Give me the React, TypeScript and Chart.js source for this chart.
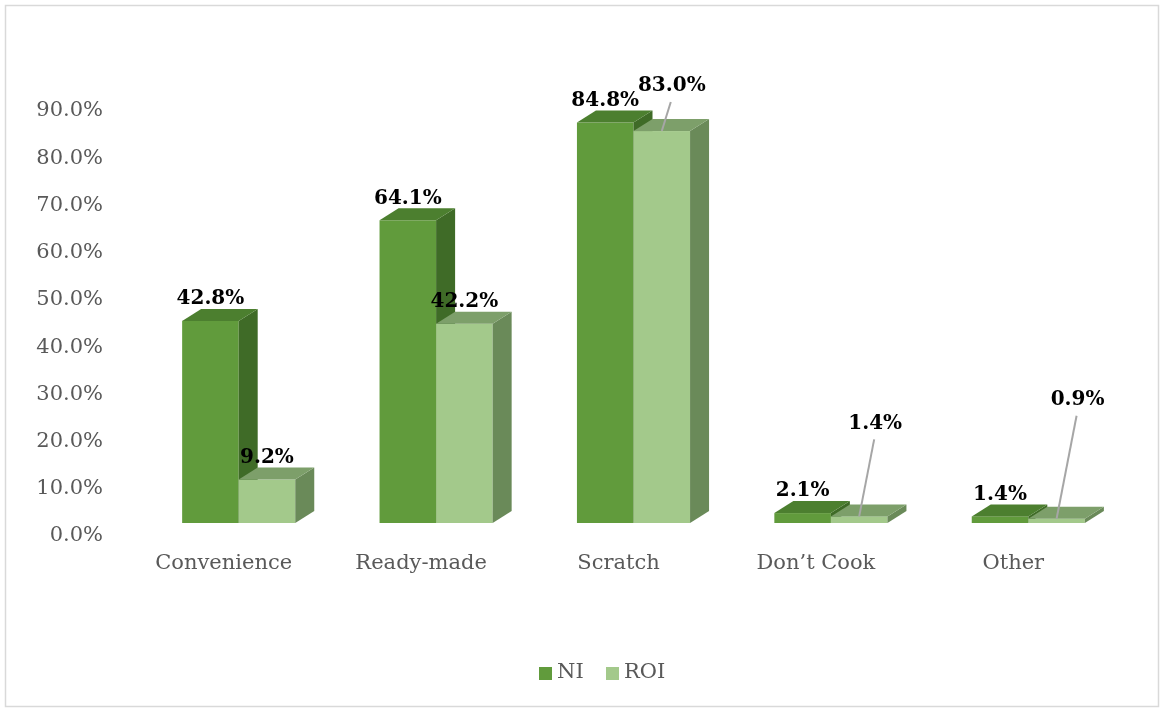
import React, { useEffect, useRef } from 'react';
import { Chart, registerables } from 'chart.js';

Chart.register(...registerables);

const categories = ['Convenience', 'Ready-made', 'Scratch', 'Don\u2019t Cook', 'Other'];
const seriesNames = ['NI', 'ROI'];
const niValues = [42.8, 64.1, 84.8, 2.1, 1.4];
const roiValues = [9.2, 42.2, 83.0, 1.4, 0.9];
const yMax = 90;
const yStep = 10;

const FACES = [
  { front: '#619b3c', top: '#4c7f2f', side: '#3f6b27' },
  { front: '#a3c98b', top: '#7d9f6a', side: '#6a8a59' },
];
const DX = 19;
const DY = 12;
// label displacement for labels that use leader lines, keyed "datasetIndex-categoryIndex" => [dx, dy]
const LABEL_SHIFT: Record<string, [number, number]> = {
  '1-2': [10, -23],
  '1-3': [16, -71],
  '1-4': [21, -97],
};

const AXIS_FONT = '21px "DejaVu Serif"';
const LABEL_FONT = 'bold 20px "DejaVu Serif"';
const GRAY = '#595959';

const bars3d = {
  id: 'bars3d',
  beforeDatasetsDraw(chart: any) {
    const ctx = chart.ctx;
    ctx.save();
    chart.data.datasets.forEach((_ds: any, di: number) => {
      const meta = chart.getDatasetMeta(di);
      const f = FACES[di];
      meta.data.forEach((bar: any) => {
        const { x, y, base, width } = bar.getProps(['x', 'y', 'base', 'width'], true);
        const l = x - width / 2;
        const r = x + width / 2;
        ctx.fillStyle = f.front;
        ctx.fillRect(l, y, width, base - y);
        ctx.fillStyle = f.side;
        ctx.beginPath();
        ctx.moveTo(r, y);
        ctx.lineTo(r + DX, y - DY);
        ctx.lineTo(r + DX, base - DY);
        ctx.lineTo(r, base);
        ctx.closePath();
        ctx.fill();
        ctx.fillStyle = f.top;
        ctx.beginPath();
        ctx.moveTo(l, y);
        ctx.lineTo(r, y);
        ctx.lineTo(r + DX, y - DY);
        ctx.lineTo(l + DX, y - DY);
        ctx.closePath();
        ctx.fill();
      });
    });
    ctx.restore();
    return false;
  },
  afterDraw(chart: any) {
    const ctx = chart.ctx;
    ctx.save();
    ctx.font = LABEL_FONT;
    ctx.textAlign = 'center';
    ctx.textBaseline = 'middle';
    chart.data.datasets.forEach((ds: any, di: number) => {
      const meta = chart.getDatasetMeta(di);
      meta.data.forEach((bar: any, i: number) => {
        const { x, y } = bar.getProps(['x', 'y'], true);
        const shift = LABEL_SHIFT[di + '-' + i] || [0, 0];
        const lx = x + shift[0];
        const ly = y - 22 + shift[1];
        if (shift[1] !== 0) {
          ctx.strokeStyle = '#a6a6a6';
          ctx.lineWidth = 2;
          ctx.beginPath();
          ctx.moveTo(lx - 1, ly + 16);
          ctx.lineTo(x, y);
          ctx.stroke();
        }
        ctx.fillStyle = '#000';
        ctx.fillText(Number(ds.data[i]).toFixed(1) + '%', lx, ly);
      });
    });
    ctx.font = AXIS_FONT;
    ctx.textAlign = 'left';
    ctx.textBaseline = 'middle';
    const legendX = [539, 606];
    chart.data.datasets.forEach((ds: any, di: number) => {
      ctx.fillStyle = FACES[di].front;
      ctx.fillRect(legendX[di], 667, 13, 13);
      ctx.fillStyle = GRAY;
      ctx.fillText(ds.label, legendX[di] + 18, 673);
    });
    ctx.restore();
  },
  beforeDraw(chart: any) {
    const ctx = chart.ctx;
    ctx.save();
    ctx.fillStyle = '#fff';
    ctx.fillRect(0, 0, chart.width, chart.height);
    ctx.strokeStyle = '#d9d9d9';
    ctx.lineWidth = 1.5;
    ctx.strokeRect(5.5, 5.5, 1153, 701);
    ctx.restore();
  },
};

export default function App() {
  const ref = useRef<HTMLCanvasElement | null>(null);
  useEffect(() => {
    if (!ref.current) return;
    const chart = new Chart(ref.current, {
      type: 'bar',
      data: {
        labels: categories,
        datasets: [
          { label: seriesNames[0], data: niValues, backgroundColor: FACES[0].front },
          { label: seriesNames[1], data: roiValues, backgroundColor: FACES[1].front },
        ],
      },
      options: {
        responsive: false,
        animation: false,
        layout: { padding: { top: 98, right: 36, left: 0, bottom: 0 } },
        plugins: { legend: { display: false }, tooltip: { enabled: false } },
        datasets: { bar: { categoryPercentage: 0.573, barPercentage: 1 } },
        scales: {
          x: {
            grid: { display: false, drawTicks: false },
            border: { display: false },
            ticks: { font: { family: 'DejaVu Serif', size: 21 }, color: GRAY, padding: 28, labelOffset: -15, maxRotation: 0, autoSkip: false },
            afterFit: (s: any) => { s.height = 188; },
          },
          y: {
            min: 0,
            max: yMax,
            grid: { display: false, drawTicks: false },
            border: { display: false },
            ticks: {
              stepSize: yStep,
              font: { family: 'DejaVu Serif', size: 21 },
              color: GRAY,
              padding: 37,
              labelOffset: 13,
              callback: (v: any) => Number(v).toFixed(1) + '%',
            },
            afterFit: (s: any) => { s.width = 140; },
          },
        },
      },
      plugins: [bars3d],
    });
    return () => chart.destroy();
  }, []);
  return (
    <div style={{ position: 'absolute', left: 0, top: 0, width: 1163, height: 711 }}>
      <canvas ref={ref} width={1163} height={711} />
    </div>
  );
}
